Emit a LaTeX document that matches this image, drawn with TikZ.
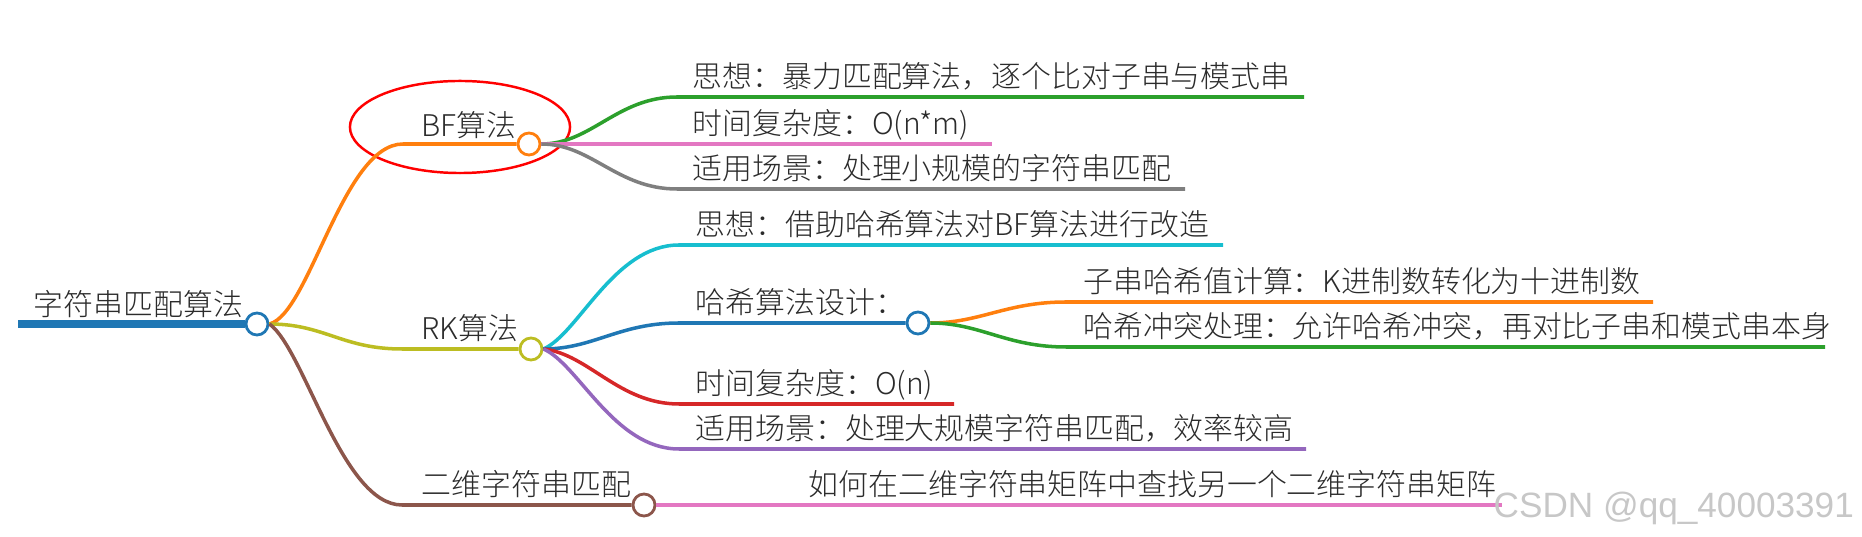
\documentclass[tikz,border=0pt]{standalone}
\usepackage{fontspec}
\setmainfont{Noto Sans CJK SC}[UprightFont=* Light]
\newfontfamily\markfont{Liberation Sans}
\usepackage{tikz}

\definecolor{rootblue}{HTML}{1F77B4}
\definecolor{mmorange}{HTML}{FF7F0E}
\definecolor{mmolive}{HTML}{BCBD22}
\definecolor{mmbrown}{HTML}{8C564B}
\definecolor{mmgreen}{HTML}{2CA02C}
\definecolor{mmpink}{HTML}{E377C2}
\definecolor{mmgray}{HTML}{7F7F7F}
\definecolor{mmcyan}{HTML}{17BECF}
\definecolor{mmred}{HTML}{D62728}
\definecolor{mmpurple}{HTML}{9467BD}
\definecolor{txtgray}{HTML}{2B2B2B}

\tikzset{
	topic/.style={anchor=base west, inner sep=0pt, text=txtgray, font=\fontsize{8.5}{10}\selectfont},
	dot/.style={circle, draw, fill=white, line width=0.8pt, inner sep=0pt, minimum size=0.22cm},
	branch/.style={line width=1pt}
}

\begin{document}
\begin{tikzpicture}[x=0.01cm, y=-0.01cm]
		\useasboundingbox (0,0) rectangle (1862,537);
		\draw [red, line width=0.7pt] (460,127) ellipse [x radius=1.10cm, y radius=0.46cm];
		\node [dot, draw=rootblue] (rootdot) at (257,324) {};
		\coordinate (rootstart) at (18,324);
		\draw [rootblue, line width=2pt] (rootstart) -- (rootdot.west);
		\node [topic] (roottxt) at (33,316) {字符串匹配算法};

		\node [dot, draw=mmorange] (bfdot) at (529,144) {};
		\coordinate (bfknee) at (403,144);
		\draw [branch, mmorange] (rootdot.east) .. controls +(40,-10) and +(-60,0) .. (bfknee) -- (bfdot.west);
		\node [topic] (bftxt) at (421,137) {BF算法};
		\coordinate (bfaknee) at (677,97);
		\coordinate (bfaend) at (1304,97);
		\draw [branch, mmgreen] (bfdot.east) .. controls +(50,0) and +(-60,0) .. (bfaknee) -- (bfaend);
		\node [topic] (bfatxt) at (692,88) {思想：暴力匹配算法，逐个比对子串与模式串};
		\coordinate (bfbend) at (992,144);
		\draw [branch, mmpink] (bfdot.east) -- (bfbend);
		\node [topic] (bfbtxt) at (692,135) {时间复杂度：O(n*m)};
		\coordinate (bfcknee) at (677,189);
		\coordinate (bfcend) at (1185,189);
		\draw [branch, mmgray] (bfdot.east) .. controls +(50,0) and +(-60,0) .. (bfcknee) -- (bfcend);
		\node [topic] (bfctxt) at (692,180) {适用场景：处理小规模的字符串匹配};

		\node [dot, draw=mmolive] (rkdot) at (531,349) {};
		\coordinate (rkknee) at (402,349);
		\draw [branch, mmolive] (rootdot.east) .. controls +(55,0) and +(-60,0) .. (rkknee) -- (rkdot.west);
		\node [topic] (rktxt) at (421,340) {RK算法};
		\coordinate (rkaknee) at (679,245);
		\coordinate (rkaend) at (1223,245);
		\draw [branch, mmcyan] (rkdot.east) .. controls +(35,-15) and +(-65,0) .. (rkaknee) -- (rkaend);
		\node [topic] (rkatxt) at (695,236) {思想：借助哈希算法对BF算法进行改造};
		\node [dot, draw=rootblue] (hashdot) at (918,323) {};
		\coordinate (rkbknee) at (679,323);
		\draw [branch, rootblue] (rkdot.east) .. controls +(50,0) and +(-60,0) .. (rkbknee) -- (hashdot.west);
		\node [topic] (rkbtxt) at (695,314) {哈希算法设计：};
		\coordinate (hashaknee) at (1066,302);
		\coordinate (hashaend) at (1653,302);
		\draw [branch, mmorange] (hashdot.east) .. controls +(50,0) and +(-60,0) .. (hashaknee) -- (hashaend);
		\node [topic] (hashatxt) at (1083,293) {子串哈希值计算：K进制数转化为十进制数};
		\coordinate (hashbknee) at (1066,347);
		\coordinate (hashbend) at (1825,347);
		\draw [branch, mmgreen] (hashdot.east) .. controls +(50,0) and +(-60,0) .. (hashbknee) -- (hashbend);
		\node [topic] (hashbtxt) at (1083,338) {哈希冲突处理：允许哈希冲突，再对比子串和模式串本身};
		\coordinate (rkcknee) at (679,404);
		\coordinate (rkcend) at (954,404);
		\draw [branch, mmred] (rkdot.east) .. controls +(45,5) and +(-60,0) .. (rkcknee) -- (rkcend);
		\node [topic] (rkctxt) at (695,395) {时间复杂度：O(n)};
		\coordinate (rkdknee) at (679,449);
		\coordinate (rkdend) at (1306,449);
		\draw [branch, mmpurple] (rkdot.east) .. controls +(35,15) and +(-65,0) .. (rkdknee) -- (rkdend);
		\node [topic] (rkdtxt) at (695,440) {适用场景：处理大规模字符串匹配，效率较高};

		\node [dot, draw=mmbrown] (twoddot) at (644,505) {};
		\coordinate (twodknee) at (402,505);
		\draw [branch, mmbrown] (rootdot.east) .. controls +(35,25) and +(-60,0) .. (twodknee) -- (twoddot.west);
		\node [topic] (twodtxt) at (421,496) {二维字符串匹配};
		\coordinate (twodaend) at (1502,505);
		\draw [branch, mmpink] (twoddot.east) -- (twodaend);
		\node [topic] (twodatxt) at (808,496) {如何在二维字符串矩阵中查找另一个二维字符串矩阵};

		\node [anchor=base west, inner sep=0pt, text=black!22, font=\markfont\fontsize{10}{12}\selectfont] (mark) at (1493,518) {CSDN @qq\_40003391};
	\end{tikzpicture}
\end{document}
